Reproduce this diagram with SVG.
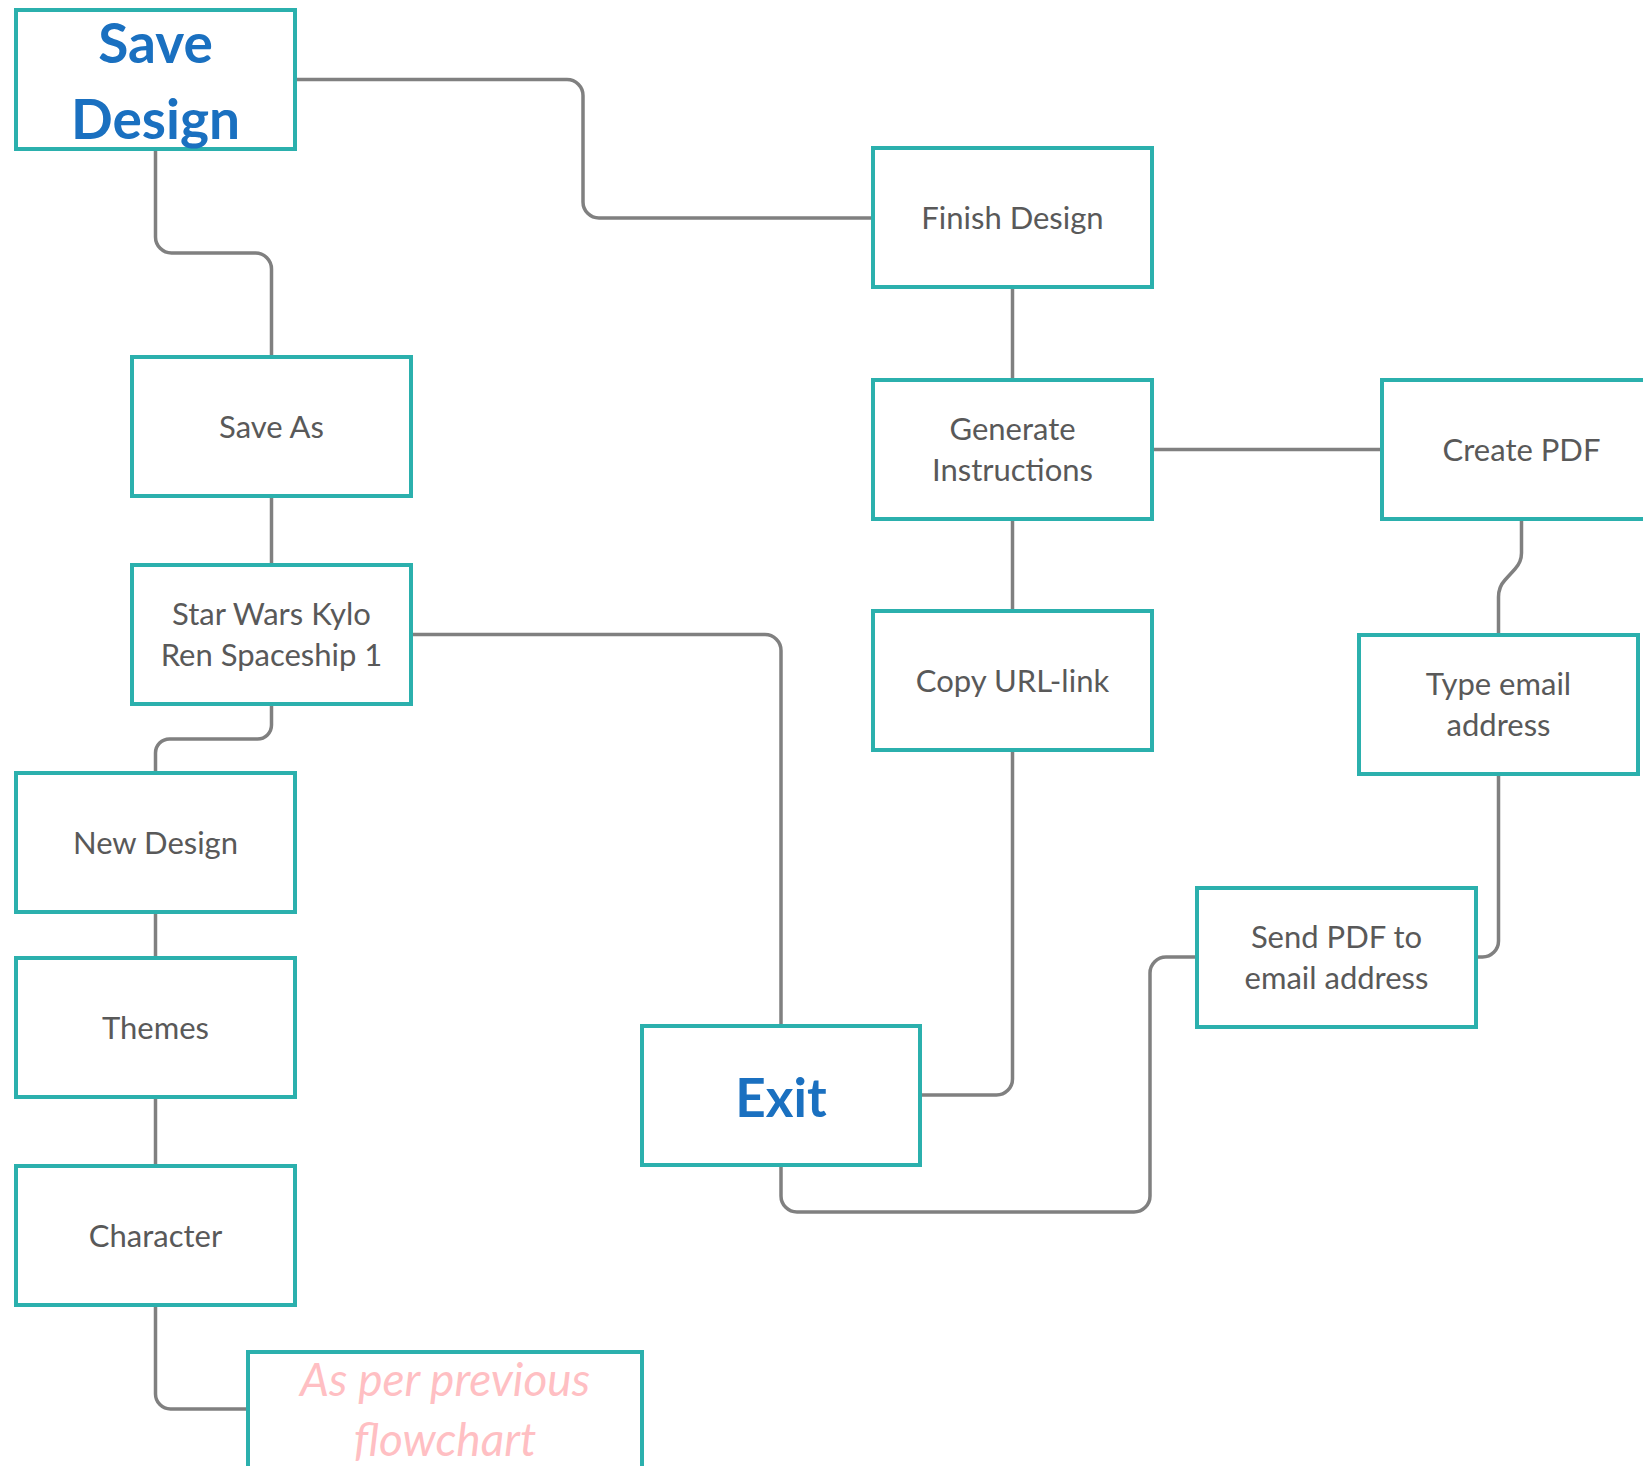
<svg xmlns="http://www.w3.org/2000/svg" width="1643" height="1466" viewBox="0 0 1643 1466">
<style>
.box{fill:#ffffff;stroke:#2bb0ad;stroke-width:4}
.t{font-family:Lato,"Liberation Sans",sans-serif;font-size:31px;fill:#595959;text-anchor:middle}
.big{font-family:Lato,"Liberation Sans",sans-serif;font-weight:700;fill:#1a70c0;text-anchor:middle}
.pink{font-family:Lato,"Liberation Sans",sans-serif;font-style:italic;font-size:46px;fill:#ffbfc3;text-anchor:middle}
.c{fill:none;stroke:#808080;stroke-width:3.5}
</style>
<rect width="1643" height="1466" fill="#ffffff"/>
<g id="connectors">
<path class="c" d="M295.5,79.5 H567 A16,16 0 0 1 583,95.5 V202 A16,16 0 0 0 599,218 H873"/>
<path class="c" d="M155.5,149 V237 A16,16 0 0 0 171.5,253 H255.5 A16,16 0 0 1 271.5,269 V357"/>
<path class="c" d="M271.5,496 V565"/>
<path class="c" d="M410.5,634.5 H765 A16,16 0 0 1 781,650.5 V1026"/>
<path class="c" d="M271.5,704 V725 A14,14 0 0 1 257.5,739 H169.5 A14,14 0 0 0 155.5,753 V773"/>
<path class="c" d="M155.5,912 V958"/>
<path class="c" d="M155.5,1097 V1166"/>
<path class="c" d="M155.5,1305 V1394 A15,15 0 0 0 170.5,1409 H248"/>
<path class="c" d="M1012.5,287 V380"/>
<path class="c" d="M1152,449.5 H1382"/>
<path class="c" d="M1012.5,519 V611"/>
<path class="c" d="M1012.5,750 V1079 A16,16 0 0 1 996.5,1095 H920"/>
<path class="c" d="M1521.5,519 V553 Q1521.5,562 1515,569 L1505,580 Q1498.5,587 1498.5,597 V635"/>
<path class="c" d="M1498.5,774 V941 A16,16 0 0 1 1482.5,957 H1475.5"/>
<path class="c" d="M781,1165 V1196 A16,16 0 0 0 797,1212 H1134 A16,16 0 0 0 1150,1196 V973 A16,16 0 0 1 1166,957 H1197"/>
</g>
<g id="save-design">
<rect class="box" x="16" y="10" width="279" height="139"/>
<text class="big" font-size="55" x="155.5" y="63">Save</text>
<text class="big" font-size="55" x="155.5" y="139">Design</text>
</g>
<g id="finish-design">
<rect class="box" x="873" y="148" width="279" height="139"/>
<text class="t" x="1012.5" y="228.5">Finish Design</text>
</g>
<g id="save-as">
<rect class="box" x="132" y="357" width="279" height="139"/>
<text class="t" x="271.5" y="437.5">Save As</text>
</g>
<g id="generate-instructions">
<rect class="box" x="873" y="380" width="279" height="139"/>
<text class="t" x="1012.5" y="439.5">Generate</text>
<text class="t" x="1012.5" y="481">Instructions</text>
</g>
<g id="create-pdf">
<rect class="box" x="1382" y="380" width="279" height="139"/>
<text class="t" x="1521.5" y="460.5">Create PDF</text>
</g>
<g id="star-wars">
<rect class="box" x="132" y="565" width="279" height="139"/>
<text class="t" x="271.5" y="624.5">Star Wars Kylo</text>
<text class="t" x="271.5" y="666">Ren Spaceship 1</text>
</g>
<g id="copy-url">
<rect class="box" x="873" y="611" width="279" height="139"/>
<text class="t" x="1012.5" y="691.5">Copy URL-link</text>
</g>
<g id="type-email">
<rect class="box" x="1359" y="635" width="279" height="139"/>
<text class="t" x="1498.5" y="694.5">Type email</text>
<text class="t" x="1498.5" y="736">address</text>
</g>
<g id="new-design">
<rect class="box" x="16" y="773" width="279" height="139"/>
<text class="t" x="155.5" y="853.5">New Design</text>
</g>
<g id="themes">
<rect class="box" x="16" y="958" width="279" height="139"/>
<text class="t" x="155.5" y="1038.5">Themes</text>
</g>
<g id="send-pdf">
<rect class="box" x="1197" y="888" width="279" height="139"/>
<text class="t" x="1336.5" y="947.5">Send PDF to</text>
<text class="t" x="1336.5" y="989">email address</text>
</g>
<g id="exit">
<rect class="box" x="642" y="1026" width="278" height="139"/>
<text class="big" font-size="53" x="781" y="1117">Exit</text>
</g>
<g id="character">
<rect class="box" x="16" y="1166" width="279" height="139"/>
<text class="t" x="155.5" y="1246.5">Character</text>
</g>
<g id="as-per-previous">
<rect class="box" x="248" y="1352" width="394" height="139"/>
<text class="pink" x="445" y="1396">As per previous</text>
<text class="pink" x="445" y="1456">flowchart</text>
</g>
</svg>
